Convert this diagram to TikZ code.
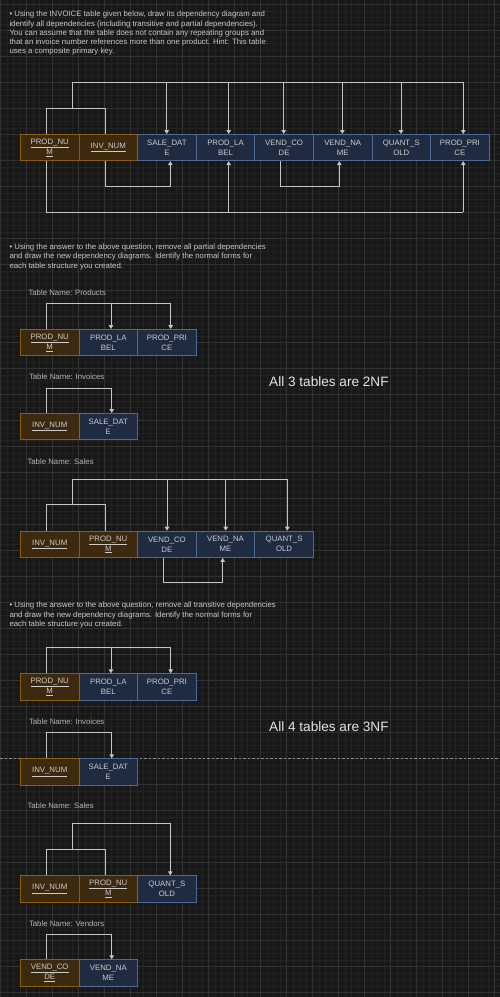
\documentclass[tikz,border=0pt]{standalone}
\usepackage{fontspec}
\setmainfont{Liberation Sans}
\usetikzlibrary{arrows.meta}
\definecolor{bgC}{HTML}{181818}
\definecolor{minorC}{HTML}{222222}
\definecolor{majorC}{HTML}{323232}
\definecolor{keyFill}{HTML}{3D290E}
\definecolor{keyLine}{HTML}{8A5E12}
\definecolor{attrFill}{HTML}{1F2B40}
\definecolor{attrLine}{HTML}{4D6A94}
\definecolor{cellTxt}{HTML}{CCCCCC}
\definecolor{lineC}{HTML}{C4C4C4}
\definecolor{qTxt}{HTML}{C8C8C8}
\definecolor{lblTxt}{HTML}{B4B4B4}
\definecolor{bigTxt}{HTML}{E4E4E4}
\definecolor{dashC}{HTML}{8A8A8A}
\tikzset{
  cell/.style={draw, minimum width=58.6pt, minimum height=26.4pt, inner sep=0pt,
    anchor=north west, align=center, text=cellTxt,
    font=\fontsize{7.8}{10}\selectfont, line width=0.8pt},
  keycell/.style={cell, fill=keyFill, draw=keyLine},
  attrcell/.style={cell, fill=attrFill, draw=attrLine},
  dep/.style={draw=lineC, line width=0.9pt},
  deparrow/.style={dep, -{Triangle[width=4.6pt,length=4pt]}},
  question/.style={anchor=north west, align=left, inner sep=0pt, text=qTxt,
    font=\fontsize{7.8}{9.3}\selectfont},
  tablelabel/.style={anchor=west, inner sep=0pt, text=lblTxt,
    font=\fontsize{7.8}{9}\selectfont},
  nfnote/.style={anchor=west, inner sep=0pt, text=bigTxt,
    font=\fontsize{13.6}{15}\selectfont},
}
\begin{document}
\begin{tikzpicture}[x=1pt,y=-1pt]
\useasboundingbox (0,0) rectangle (500,997);
% background and grid
\fill[bgC] (0,0) rectangle (500,997);
\foreach \x in {0.3,6.8,...,500} \draw[minorC, line width=0.6pt] (\x,0) -- (\x,997);
\foreach \y in {4.3,10.8,...,997} \draw[minorC, line width=0.6pt] (0,\y) -- (500,\y);
\foreach \x in {0.3,26.3,...,500} \draw[majorC, line width=0.7pt] (\x,0) -- (\x,997);
\foreach \y in {4.3,30.3,...,997} \draw[majorC, line width=0.7pt] (0,\y) -- (500,\y);

% ---------------- questions ----------------
\node[question] (q1text) at (9.3,10.9) {• Using the INVOICE table given below, draw its dependency diagram and\\
identify all dependencies (including transitive and partial dependencies).\\
You can assume that the table does not contain any repeating groups and\\
that an invoice number references more than one product. Hint: This table\\
uses a composite primary key.};
\node[question] (q2text) at (9.3,243.6) {• Using the answer to the above question, remove all partial dependencies\\
and draw the new dependency diagrams. Identify the normal forms for\\
each table structure you created.};
\node[question] (q3text) at (9.3,601.9) {• Using the answer to the above question, remove all transitive dependencies\\
and draw the new dependency diagrams. Identify the normal forms for\\
each table structure you created.};

\node[tablelabel] (lblP2) at (28.3,293) {Table Name: Products};
\node[tablelabel] (lblI2) at (28.8,377) {Table Name: Invoices};
\node[tablelabel] (lblS2) at (27.3,462) {Table Name: Sales};
\node[tablelabel] (lblI3) at (28.8,721.7) {Table Name: Invoices};
\node[tablelabel] (lblS3) at (27.3,806) {Table Name: Sales};
\node[tablelabel] (lblV3) at (28.8,923.3) {Table Name: Vendors};

\node[nfnote] (nf2) at (269,381.7) {All 3 tables are 2NF};
\node[nfnote] (nf3) at (269,726.7) {All 4 tables are 3NF};

\draw[dashC, line width=0.8pt, dash pattern=on 2.5pt off 2pt] (0,758) -- (500,758);

% ================= INVOICE table =================
\node[keycell]  (a1) at (20,134)    {\underline{PROD\_NU}\\\underline{M}};
\node[keycell]  (a2) at (78.6,134)  {\underline{INV\_NUM}};
\node[attrcell] (a3) at (137.2,134) {SALE\_DAT\\E};
\node[attrcell] (a4) at (195.8,134) {PROD\_LA\\BEL};
\node[attrcell] (a5) at (254.4,134) {VEND\_CO\\DE};
\node[attrcell] (a6) at (313,134)   {VEND\_NA\\ME};
\node[attrcell] (a7) at (371.6,134) {QUANT\_S\\OLD};
\node[attrcell] (a8) at (430.2,134) {PROD\_PRI\\CE};

\coordinate (ak1) at (46.7,108.3);
\coordinate (ak2) at (105.3,108.3);
\coordinate (akm) at (72.7,108.3);
\coordinate (aT0) at (72.7,82.3);
\coordinate (aT3) at (166.7,82.3);
\coordinate (aT4) at (228.7,82.3);
\coordinate (aT5) at (283.7,82.3);
\coordinate (aT6) at (342.3,82.3);
\coordinate (aT7) at (401,82.3);
\coordinate (aT8) at (463.3,82.3);
\draw[dep] (ak1 |- a1.north) -- (ak1) -- (ak2) -- (ak2 |- a2.north);
\draw[dep] (akm) -- (aT0) -- (aT8);
\foreach \t/\b in {aT3/a3,aT4/a4,aT5/a5,aT6/a6,aT7/a7,aT8/a8}
  \draw[deparrow] (\t) -- (\t |- \b.north);
% partial: INV_NUM -> SALE_DATE
\coordinate (aB1) at (105.3,186.3);
\coordinate (aB2) at (170.3,186.3);
\draw[deparrow] (aB1 |- a2.south) -- (aB1) -- (aB2) -- (aB2 |- a3.south);
% partial: PROD_NUM -> PROD_LABEL, PROD_PRICE
\coordinate (aC1) at (46.7,212);
\coordinate (aC4) at (228.7,212);
\coordinate (aC8) at (463.3,212);
\draw[dep] (aC1 |- a1.south) -- (aC1) -- (aC8);
\draw[deparrow] (aC4) -- (aC4 |- a4.south);
\draw[deparrow] (aC8) -- (aC8 |- a8.south);
% transitive: VEND_CODE -> VEND_NAME
\coordinate (aD1) at (280.7,186.3);
\coordinate (aD2) at (339.3,186.3);
\draw[deparrow] (aD1 |- a5.south) -- (aD1) -- (aD2) -- (aD2 |- a6.south);

% ================= 2NF: Products =================
\node[keycell]  (p1) at (20,329)    {\underline{PROD\_NU}\\\underline{M}};
\node[attrcell] (p2) at (78.6,329)  {PROD\_LA\\BEL};
\node[attrcell] (p3) at (137.2,329) {PROD\_PRI\\CE};
\coordinate (pk) at (46.7,303.3);
\coordinate (pT2) at (111,303.3);
\coordinate (pT3) at (170.7,303.3);
\draw[dep] (pk |- p1.north) -- (pk) -- (pT3);
\draw[deparrow] (pT2) -- (pT2 |- p2.north);
\draw[deparrow] (pT3) -- (pT3 |- p3.north);

% ================= 2NF: Invoices =================
\node[keycell]  (i1) at (20,413)   {\underline{INV\_NUM}};
\node[attrcell] (i2) at (78.6,413) {SALE\_DAT\\E};
\coordinate (ik) at (46.7,388);
\coordinate (iT2) at (111.7,388);
\draw[deparrow] (ik |- i1.north) -- (ik) -- (iT2) -- (iT2 |- i2.north);

% ================= 2NF: Sales =================
\node[keycell]  (s1) at (20,530.7)    {\underline{INV\_NUM}};
\node[keycell]  (s2) at (78.6,530.7)  {\underline{PROD\_NU}\\\underline{M}};
\node[attrcell] (s3) at (137.2,530.7) {VEND\_CO\\DE};
\node[attrcell] (s4) at (195.8,530.7) {VEND\_NA\\ME};
\node[attrcell] (s5) at (254.4,530.7) {QUANT\_S\\OLD};
\coordinate (sk1) at (46.7,504.3);
\coordinate (sk2) at (105.3,504.3);
\coordinate (skm) at (72.7,504.3);
\coordinate (sT0) at (72.7,479);
\coordinate (sT3) at (167,479);
\coordinate (sT4) at (225.7,479);
\coordinate (sT5) at (287.3,479);
\draw[dep] (sk1 |- s1.north) -- (sk1) -- (sk2) -- (sk2 |- s2.north);
\draw[dep] (skm) -- (sT0) -- (sT5);
\foreach \t/\b in {sT3/s3,sT4/s4,sT5/s5}
  \draw[deparrow] (\t) -- (\t |- \b.north);
\coordinate (sB1) at (163.7,582.3);
\coordinate (sB2) at (222.7,582.3);
\draw[deparrow] (sB1 |- s3.south) -- (sB1) -- (sB2) -- (sB2 |- s4.south);

% ================= 3NF: Products =================
\node[keycell]  (r1) at (20,673.3)    {\underline{PROD\_NU}\\\underline{M}};
\node[attrcell] (r2) at (78.6,673.3)  {PROD\_LA\\BEL};
\node[attrcell] (r3) at (137.2,673.3) {PROD\_PRI\\CE};
\coordinate (rk) at (46.7,647.7);
\coordinate (rT2) at (111,647.7);
\coordinate (rT3) at (170.7,647.7);
\draw[dep] (rk |- r1.north) -- (rk) -- (rT3);
\draw[deparrow] (rT2) -- (rT2 |- r2.north);
\draw[deparrow] (rT3) -- (rT3 |- r3.north);

% ================= 3NF: Invoices =================
\node[keycell]  (j1) at (20,758.3)   {\underline{INV\_NUM}};
\node[attrcell] (j2) at (78.6,758.3) {SALE\_DAT\\E};
\coordinate (jk) at (46.7,732.7);
\coordinate (jT2) at (111.7,732.7);
\draw[deparrow] (jk |- j1.north) -- (jk) -- (jT2) -- (jT2 |- j2.north);

% ================= 3NF: Sales =================
\node[keycell]  (t1) at (20,875.3)    {\underline{INV\_NUM}};
\node[keycell]  (t2) at (78.6,875.3)  {\underline{PROD\_NU}\\\underline{M}};
\node[attrcell] (t3) at (137.2,875.3) {QUANT\_S\\OLD};
\coordinate (tk1) at (46.7,849.3);
\coordinate (tk2) at (105.3,849.3);
\coordinate (tkm) at (72.7,849.3);
\coordinate (tT0) at (72.7,823.3);
\coordinate (tT3) at (170.3,823.3);
\draw[dep] (tk1 |- t1.north) -- (tk1) -- (tk2) -- (tk2 |- t2.north);
\draw[deparrow] (tkm) -- (tT0) -- (tT3) -- (tT3 |- t3.north);

% ================= 3NF: Vendors =================
\node[keycell]  (v1) at (20,959.3)   {\underline{VEND\_CO}\\\underline{DE}};
\node[attrcell] (v2) at (78.6,959.3) {VEND\_NA\\ME};
\coordinate (vk) at (46.7,934);
\coordinate (vT2) at (111.7,934);
\draw[deparrow] (vk |- v1.north) -- (vk) -- (vT2) -- (vT2 |- v2.north);
\end{tikzpicture}
\end{document}
